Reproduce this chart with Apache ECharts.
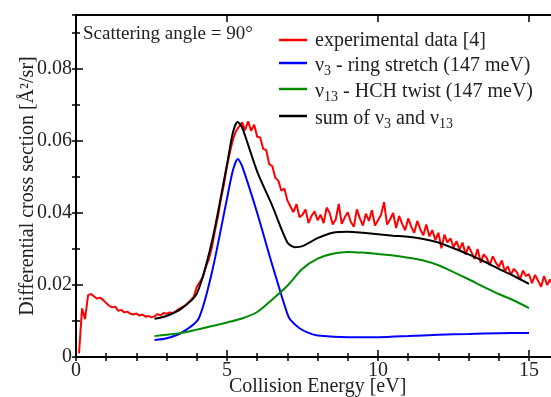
<!DOCTYPE html>
<html><head><meta charset="utf-8">
<script src="https://cdn.jsdelivr.net/npm/echarts@6/dist/echarts.min.js"></script>
<style>html,body{margin:0;padding:0;background:#fff}#c{width:551px;height:397px}</style>
</head><body><div id="c"></div>
<script>
// ---- data ----
const expStart = 0.1, expStep = 0.1;
const expValues = [
0.0010,0.0135,0.0105,0.0172,0.0175,0.0168,0.0162,0.0165,0.0158,0.0150,
0.0142,0.0138,0.0140,0.0128,0.0131,0.0124,0.0126,0.0120,0.0118,0.0121,
0.0115,0.0118,0.0112,0.0114,0.0110,0.0113,0.0119,0.0116,0.0122,0.0120,
0.0124,0.0122,0.0127,0.0133,0.0138,0.0142,0.0150,0.0158,0.0168,0.0195,
0.0208,0.0222,0.0250,0.0272,0.0305,0.0350,0.0390,0.0440,0.0480,0.0530,
0.0570,0.0605,0.0628,0.0640,0.0652,0.0630,0.0655,0.0628,0.0645,0.0612,
0.0610,0.0578,0.0575,0.0535,0.0530,0.0498,0.0490,0.0462,0.0468,0.0435,
0.0418,0.0402,0.0425,0.0388,0.0395,0.0410,0.0372,0.0392,0.0405,0.0380,
0.0395,0.0372,0.0415,0.0400,0.0368,0.0382,0.0425,0.0370,0.0388,0.0402,
0.0375,0.0362,0.0410,0.0385,0.0365,0.0398,0.0378,0.0408,0.0365,0.0380,
0.0395,0.0430,0.0368,0.0382,0.0400,0.0358,0.0392,0.0370,0.0352,0.0385,
0.0362,0.0345,0.0378,0.0355,0.0338,0.0368,0.0335,0.0352,0.0325,0.0345,
0.0302,0.0340,0.0318,0.0330,0.0305,0.0322,0.0298,0.0318,0.0285,0.0308,
0.0290,0.0272,0.0300,0.0262,0.0285,0.0275,0.0255,0.0280,0.0262,0.0250,
0.0268,0.0238,0.0252,0.0228,0.0245,0.0235,0.0215,0.0240,0.0225,0.0230,
0.0205,0.0228,0.0212,0.0195,0.0225,0.0200,0.0215,0.0198
];
const blueEnergy = [2.6,3.0,3.5,4.05,4.5,5.0,5.2,5.36,5.5,6.0,6.42,6.75,7.0,7.1,7.4,7.7,8.0,9.0,10,11,12,13,14,15];
const blueValues = [0.0047,0.0052,0.0068,0.0105,0.0235,0.0440,0.0520,0.0550,0.0530,0.0400,0.0278,0.0186,0.0120,0.0103,0.0080,0.0067,0.0060,0.0055,0.0055,0.0058,0.0062,0.0064,0.0066,0.0067];
const greenEnergy = [2.6,3.0,3.5,4.0,4.5,5.0,5.5,6.0,6.5,7.0,7.5,8.0,8.5,9.0,9.5,10,10.5,11,11.5,12,12.5,13,13.5,14,14.5,15];
const greenValues = [0.0058,0.0062,0.0067,0.0076,0.0086,0.0096,0.0107,0.0125,0.0160,0.0198,0.0245,0.0273,0.0287,0.0292,0.0290,0.0286,0.0282,0.0276,0.0268,0.0255,0.0236,0.0216,0.0195,0.0175,0.0157,0.0136];
const sumEnergy = [2.6,3.0,3.5,4.0,4.5,5.0,5.2,5.35,5.5,6.0,6.5,7.0,7.25,7.5,8.0,8.5,9.0,9.5,10,10.5,11,11.5,12,12.5,13,13.5,14,14.5,15];
const sumValues = [0.0106,0.0114,0.0135,0.0176,0.0320,0.0535,0.0625,0.0653,0.0638,0.0515,0.0420,0.0318,0.0305,0.0308,0.0330,0.0345,0.0348,0.0345,0.0341,0.0337,0.0334,0.0328,0.0318,0.0302,0.0285,0.0266,0.0245,0.0225,0.0203];
const xTickLabels = ['0','5','10','15'];
const yTickLabels = ['0','0.02','0.04','0.06','0.08'];
const legendNames = ['experimental data [4]','ν3 - ring stretch (147 meV)','ν13 - HCH twist (147 meV)','sum of ν3 and ν13'];
const annotation = 'Scattering angle = 90°';

// ---- build ----
const FONT = 'Liberation Serif';
const zip = (xs, ys) => xs.map((x, i) => [x, ys[i]]);
const expData = expValues.map((v, i) => [+(expStart + i * expStep).toFixed(2), v]);
const near = (v, step) => Math.abs(v / step - Math.round(v / step)) < 1e-6;

const baseAxis = (extra) => Object.assign({
  type: 'value', splitLine: {show: false},
  axisLine: {show: false}, axisLabel: {show: false},
  axisTick: {show: true, inside: true, length: 4, lineStyle: {color: '#000', width: 1.5}}
}, extra);

const xMin = 0, xMax = 16, yMin = 0, yMax = 0.095;
const xAxes = [
  baseAxis({min: xMin, max: xMax, interval: 5, position: 'bottom',
    axisLine: {show: true, onZero: false, lineStyle: {color: '#000', width: 2}},
    axisTick: {show: true, inside: true, length: 7, lineStyle: {color: '#000', width: 1.5}},
    axisLabel: {show: true, margin: 4, color: '#222', fontFamily: FONT, fontSize: 20,
      formatter: v => { const i = Math.round(v / 5); return near(v, 5) && xTickLabels[i] !== undefined ? xTickLabels[i] : ''; }},
    name: 'Collision Energy [eV]', nameLocation: 'middle', nameGap: 20, nameMoveOverlap: false,
    nameTextStyle: {color: '#222', fontFamily: FONT, fontSize: 20}}),
  baseAxis({min: xMin, max: xMax, interval: 1, position: 'bottom'}),
  baseAxis({min: xMin, max: xMax, interval: 5, position: 'top',
    axisLine: {show: true, onZero: false, lineStyle: {color: '#000', width: 2}},
    axisTick: {show: true, inside: true, length: 7, lineStyle: {color: '#000', width: 1.5}}}),
  baseAxis({min: xMin, max: xMax, interval: 1, position: 'top'})
];
const yAxes = [
  baseAxis({min: yMin, max: yMax, interval: 0.02, position: 'left',
    axisLine: {show: true, onZero: false, lineStyle: {color: '#000', width: 2}},
    axisTick: {show: true, inside: true, length: 7, lineStyle: {color: '#000', width: 1.5}},
    axisLabel: {show: true, margin: 4, color: '#222', fontFamily: FONT, fontSize: 20,
      formatter: v => { const i = Math.round(v / 0.02); return near(v, 0.02) && yTickLabels[i] !== undefined ? yTickLabels[i] : ''; }},
    name: 'Differential cross section [Å²/sr]', nameLocation: 'middle', nameGap: 38, nameMoveOverlap: false,
    nameTextStyle: {color: '#222', fontFamily: FONT, fontSize: 20}}),
  baseAxis({min: yMin, max: yMax, interval: 0.01, position: 'left'}),
  baseAxis({min: yMin, max: yMax, interval: 0.02, position: 'right',
    axisLine: {show: true, onZero: false, lineStyle: {color: '#000', width: 2}},
    axisTick: {show: true, inside: true, length: 7, lineStyle: {color: '#000', width: 1.5}}}),
  baseAxis({min: yMin, max: yMax, interval: 0.01, position: 'right'})
];

const mkLine = (name, data, color) => ({
  name, type: 'line', data, xAxisIndex: 0, yAxisIndex: 0, showSymbol: false, symbol: 'none',
  smooth: false, lineStyle: {color, width: 2}, itemStyle: {color}, animation: false
});
const series = [
  mkLine(legendNames[0], expData, '#ff0000'),
  Object.assign(mkLine(legendNames[1], zip(blueEnergy, blueValues), '#0000ff'), {smooth: 0.25}),
  Object.assign(mkLine(legendNames[2], zip(greenEnergy, greenValues), '#008c00'), {smooth: 0.3}),
  Object.assign(mkLine(legendNames[3], zip(sumEnergy, sumValues), '#000000'), {smooth: 0.25})
];

// legend drawn with graphic (rich text for subscripts)
const rich = {
  m: {fontFamily: FONT, fontSize: 20, color: '#222'},
  s: {fontFamily: FONT, fontSize: 14, color: '#222', padding: [10, 0, 0, 0]}
};
const legendTexts = [
  '{m|experimental data [4]}',
  '{m|ν}{s|3}{m| - ring stretch (147 meV)}',
  '{m|ν}{s|13}{m| - HCH twist (147 meV)}',
  '{m|sum of ν}{s|3}{m| and ν}{s|13}'
];
const legendColors = ['#ff0000', '#0000ff', '#008c00', '#000000'];
const legendY = [40, 63, 89, 116];
const legendTextY = [41, 66, 92, 119];
const graphics = [];
legendTexts.forEach((t, i) => {
  graphics.push({type: 'line', shape: {x1: 279, y1: legendY[i], x2: 307, y2: legendY[i]},
    style: {stroke: legendColors[i], lineWidth: 2.5}, z: 100});
  graphics.push({type: 'text', x: 315, y: legendTextY[i],
    style: {text: t, rich, textVerticalAlign: 'middle', verticalAlign: 'middle', fill: '#222'}, z: 100});
});
graphics.push({type: 'text', x: 83, y: 34,
  style: {text: annotation, fontFamily: FONT, fontSize: 19, fill: '#222', verticalAlign: 'middle', textVerticalAlign: 'middle'}, z: 100});

const chart = echarts.init(document.getElementById('c'), null, {renderer: 'canvas'});
chart.setOption({
  animation: false,
  backgroundColor: '#fff',
  grid: {left: 76, top: 15, width: 483.2, height: 342, containLabel: false, outerBoundsMode: 'none'},
  xAxis: xAxes,
  yAxis: yAxes,
  series,
  graphic: graphics
});
</script></body></html>
